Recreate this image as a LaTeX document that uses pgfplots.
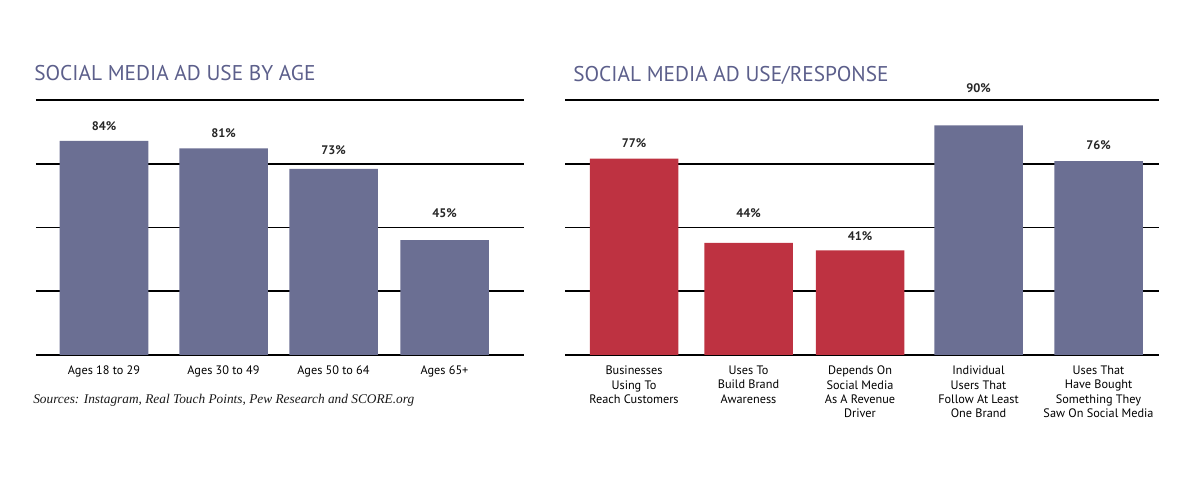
\documentclass[border=0pt]{standalone}
\usepackage{pgfplots}
\pgfplotsset{compat=1.18}
\usepackage{fontspec}
\setmainfont{PT Sans}
\newfontfamily\srcfont{Liberation Serif}
\definecolor{barblue}{HTML}{6B6F93}
\definecolor{barred}{HTML}{BE3241}
\definecolor{titleblue}{HTML}{5C5F8B}
\pgfplotsset{
  adstyle/.style={
    scale only axis,
    ybar, bar shift=0pt,
    ymin=0, ymax=100,
    ytick={0,25,50,75,100},
    yticklabels={},
    ymajorgrids,
    grid style={black, line width=1.4pt},
    axis line style={draw=none},
    tick style={draw=none},
    clip=false,
    xticklabel style={font=\fontsize{9.2}{10.7}\selectfont, text=black, align=center, yshift=-0.5pt},
    every axis plot/.append style={draw=none, bar shift=0pt},
  },
}
\tikzset{vlab/.style={font=\bfseries\fontsize{9.3}{10}\selectfont, text=black!85}}
\begin{document}
\begin{tikzpicture}[x=0.75pt,y=0.75pt]
\useasboundingbox (0,0) rectangle (1200,481);
% titles
\node[anchor=west, inner sep=0, text=titleblue, font=\fontsize{16}{19}\selectfont] at (34,408) {SOCIAL MEDIA AD USE BY AGE};
\node[anchor=west, inner sep=0, text=titleblue, font=\fontsize{16}{19}\selectfont] at (573,406) {SOCIAL MEDIA AD USE/RESPONSE};
\node[anchor=west, inner sep=0, font=\srcfont\itshape\fontsize{10}{12}\selectfont, text=black!90] at (33,81) {Sources: Instagram, Real Touch Points, Pew Research and SCORE.org};

% left chart
\begin{axis}[adstyle,
  at={(27pt,94.5pt)}, anchor=south west,
  width=366pt, height=191.25pt,
  xmin=36, xmax=524,
  bar width=88.5,
  xtick={104,223.5,333.5,444.5},
  xticklabels={Ages 18 to 29, Ages 30 to 49, Ages 50 to 64, Ages 65+},
]
\addplot[fill=barblue] coordinates {(104,84) (223.5,81) (333.5,73) (444.5,45)};
\node[vlab] at (axis cs:104,89.8) {84\%};
\node[vlab] at (axis cs:223.5,86.9) {81\%};
\node[vlab] at (axis cs:333.5,80.4) {73\%};
\node[vlab] at (axis cs:444.5,55.7) {45\%};
\end{axis}

% right chart
\begin{axis}[adstyle,
  at={(423.75pt,94.5pt)}, anchor=south west,
  width=445.5pt, height=191.25pt,
  xmin=565, xmax=1159,
  bar width=88.5,
  xtick={634,748.5,860,978.5,1098.5},
  xticklabels={{Businesses\\Using To\\Reach Customers},{Uses To\\Build Brand\\Awareness},{Depends On\\Social Media\\As A Revenue\\Driver},{Individual\\Users That\\Follow At Least\\One Brand},{Uses That\\Have Bought\\Something They\\Saw On Social Media}},
]
\addplot[fill=barred] coordinates {(634,77) (748.5,44) (860,41)};
\addplot[fill=barblue] coordinates {(978.5,90) (1098.5,76)};
\node[vlab] at (axis cs:634,83.1) {77\%};
\node[vlab] at (axis cs:748.5,55.7) {44\%};
\node[vlab] at (axis cs:860,46.7) {41\%};
\node[vlab] at (axis cs:978.5,104.7) {90\%};
\node[vlab] at (axis cs:1098.5,82.4) {76\%};
\end{axis}
\end{tikzpicture}
\end{document}
